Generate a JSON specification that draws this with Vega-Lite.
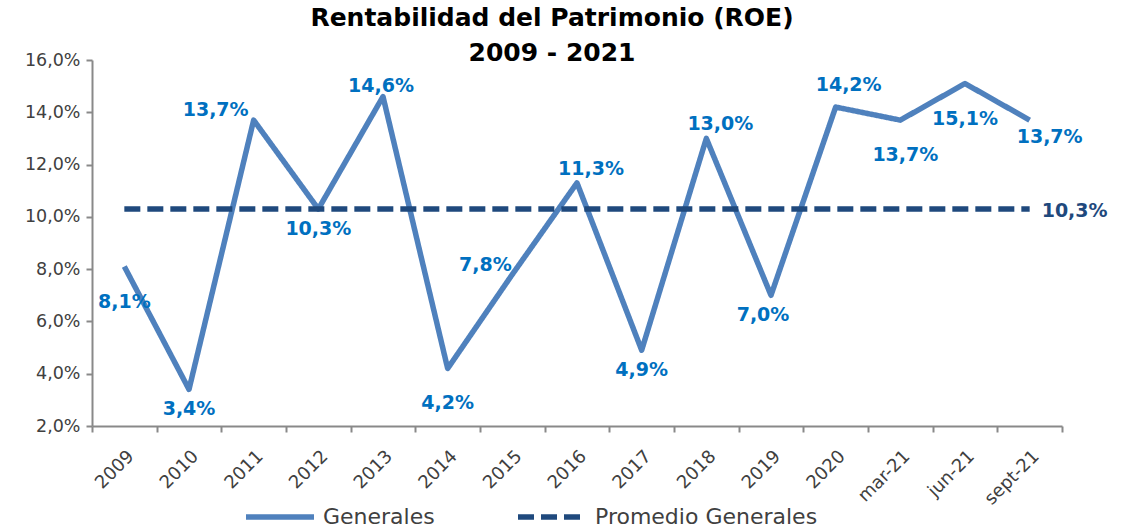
{
  "$schema": "https://vega.github.io/schema/vega-lite/v6.json",
  "width": 970,
  "height": 366,
  "autosize": {"type": "none"},
  "padding": {"left": 92, "top": 60, "right": 59, "bottom": 105},
  "title": {
    "text": ["Rentabilidad del Patrimonio (ROE)", "2009 - 2021"],
    "font": "DejaVu Sans",
    "fontSize": 25,
    "fontWeight": "bold",
    "color": "#000000",
    "anchor": "middle",
    "offset": -15,
    "lineHeight": 35,
    "dx": -25
  },
  "config": {
    "view": {"stroke": null},
    "font": "DejaVu Sans",
    "locale": {"number": {"decimal": ",", "thousands": ".", "grouping": [3], "currency": ["$", ""]}}
  },
  "data": {
    "values": [
      {"periodo": "2009", "serie": "Generales", "valor": 0.081},
      {"periodo": "2010", "serie": "Generales", "valor": 0.034},
      {"periodo": "2011", "serie": "Generales", "valor": 0.137},
      {"periodo": "2012", "serie": "Generales", "valor": 0.103},
      {"periodo": "2013", "serie": "Generales", "valor": 0.146},
      {"periodo": "2014", "serie": "Generales", "valor": 0.042},
      {"periodo": "2015", "serie": "Generales", "valor": 0.078},
      {"periodo": "2016", "serie": "Generales", "valor": 0.113},
      {"periodo": "2017", "serie": "Generales", "valor": 0.049},
      {"periodo": "2018", "serie": "Generales", "valor": 0.130},
      {"periodo": "2019", "serie": "Generales", "valor": 0.070},
      {"periodo": "2020", "serie": "Generales", "valor": 0.142},
      {"periodo": "mar-21", "serie": "Generales", "valor": 0.137},
      {"periodo": "jun-21", "serie": "Generales", "valor": 0.151},
      {"periodo": "sept-21", "serie": "Generales", "valor": 0.137},
      {"periodo": "2009", "serie": "Promedio Generales", "valor": 0.103},
      {"periodo": "2010", "serie": "Promedio Generales", "valor": 0.103},
      {"periodo": "2011", "serie": "Promedio Generales", "valor": 0.103},
      {"periodo": "2012", "serie": "Promedio Generales", "valor": 0.103},
      {"periodo": "2013", "serie": "Promedio Generales", "valor": 0.103},
      {"periodo": "2014", "serie": "Promedio Generales", "valor": 0.103},
      {"periodo": "2015", "serie": "Promedio Generales", "valor": 0.103},
      {"periodo": "2016", "serie": "Promedio Generales", "valor": 0.103},
      {"periodo": "2017", "serie": "Promedio Generales", "valor": 0.103},
      {"periodo": "2018", "serie": "Promedio Generales", "valor": 0.103},
      {"periodo": "2019", "serie": "Promedio Generales", "valor": 0.103},
      {"periodo": "2020", "serie": "Promedio Generales", "valor": 0.103},
      {"periodo": "mar-21", "serie": "Promedio Generales", "valor": 0.103},
      {"periodo": "jun-21", "serie": "Promedio Generales", "valor": 0.103},
      {"periodo": "sept-21", "serie": "Promedio Generales", "valor": 0.103}
    ]
  },
  "encoding": {
    "x": {
      "field": "periodo",
      "type": "nominal",
      "sort": ["2009","2010","2011","2012","2013","2014","2015","2016","2017","2018","2019","2020","mar-21","jun-21","sept-21"],
      "scale": {"type": "band", "paddingInner": 0, "paddingOuter": 0},
      "axis": {
        "title": null,
        "labelAngle": -45,
        "labelFontSize": 18,
        "labelColor": "#404040",
        "tickBand": "extent",
        "tickSize": 6,
        "domainColor": "#898989",
        "tickColor": "#898989",
        "domainWidth": 2,
        "tickWidth": 2,
        "labelPadding": 15
      }
    },
    "y": {
      "field": "valor",
      "type": "quantitative",
      "scale": {"domain": [0.02, 0.16], "nice": false, "zero": false},
      "axis": {
        "title": null,
        "values": [0.02, 0.04, 0.06, 0.08, 0.10, 0.12, 0.14, 0.16],
        "format": ".1%",
        "labelFontSize": 17.5,
        "labelColor": "#404040",
        "grid": false,
        "tickSize": 6,
        "domainColor": "#898989",
        "tickColor": "#898989",
        "domainWidth": 2,
        "tickWidth": 2,
        "labelPadding": 6
      }
    }
  },
  "layer": [
    {
      "mark": {"type": "line", "strokeWidth": 5.5, "strokeJoin": "round"},
      "encoding": {
        "color": {
          "field": "serie",
          "type": "nominal",
          "scale": {"domain": ["Generales", "Promedio Generales"], "range": ["#4F81BD", "#1F497D"]},
          "legend": {
            "orient": "none",
            "legendX": 151,
            "legendY": 420,
            "direction": "horizontal",
            "title": null,
            "symbolType": "stroke",
            "symbolSize": 4624,
            "symbolStrokeWidth": 5.5,
            "labelFontSize": 22,
            "labelColor": "#404040",
            "labelLimit": 400,
            "columnPadding": 72,
            "labelOffset": 6
          }
        },
        "strokeDash": {
          "field": "serie",
          "type": "nominal",
          "scale": {"domain": ["Generales", "Promedio Generales"], "range": [[1, 0], [16, 7]]},
          "legend": {
            "orient": "none",
            "legendX": 151,
            "legendY": 420,
            "direction": "horizontal",
            "title": null,
            "symbolType": "stroke",
            "symbolSize": 4624,
            "symbolStrokeWidth": 5.5,
            "labelFontSize": 22,
            "labelColor": "#404040",
            "labelLimit": 400,
            "columnPadding": 72,
            "labelOffset": 6
          }
        }
      }
    },
    {
      "transform": [{"filter": {"field": "serie", "equal": "Generales"}}, {"filter": {"field": "periodo", "oneOf": ["2013"]}}],
      "mark": {"type": "text", "fontSize": 19, "fontWeight": "bold", "color": "#0070C0", "baseline": "middle", "dx": -2, "dy": -11},
      "encoding": {"text": {"field": "valor", "type": "quantitative", "format": ".1%"}}
    },
    {
      "transform": [{"filter": {"field": "serie", "equal": "Generales"}}, {"filter": {"field": "periodo", "oneOf": ["2016", "2018"]}}],
      "mark": {"type": "text", "fontSize": 19, "fontWeight": "bold", "color": "#0070C0", "baseline": "middle", "dx": 14, "dy": -14},
      "encoding": {"text": {"field": "valor", "type": "quantitative", "format": ".1%"}}
    },
    {
      "transform": [{"filter": {"field": "serie", "equal": "Generales"}}, {"filter": {"field": "periodo", "oneOf": ["2020"]}}],
      "mark": {"type": "text", "fontSize": 19, "fontWeight": "bold", "color": "#0070C0", "baseline": "middle", "dx": 13, "dy": -22},
      "encoding": {"text": {"field": "valor", "type": "quantitative", "format": ".1%"}}
    },
    {
      "transform": [{"filter": {"field": "serie", "equal": "Generales"}}, {"filter": {"field": "periodo", "oneOf": ["2010", "2012", "2017"]}}],
      "mark": {"type": "text", "fontSize": 19, "fontWeight": "bold", "color": "#0070C0", "baseline": "middle", "dy": 20},
      "encoding": {"text": {"field": "valor", "type": "quantitative", "format": ".1%"}}
    },
    {
      "transform": [{"filter": {"field": "serie", "equal": "Generales"}}, {"filter": {"field": "periodo", "oneOf": ["2019"]}}],
      "mark": {"type": "text", "fontSize": 19, "fontWeight": "bold", "color": "#0070C0", "baseline": "middle", "dx": -8, "dy": 20},
      "encoding": {"text": {"field": "valor", "type": "quantitative", "format": ".1%"}}
    },
    {
      "transform": [{"filter": {"field": "serie", "equal": "Generales"}}, {"filter": {"field": "periodo", "oneOf": ["2009", "2014", "jun-21"]}}],
      "mark": {"type": "text", "fontSize": 19, "fontWeight": "bold", "color": "#0070C0", "baseline": "middle", "dy": 35},
      "encoding": {"text": {"field": "valor", "type": "quantitative", "format": ".1%"}}
    },
    {
      "transform": [{"filter": {"field": "serie", "equal": "Generales"}}, {"filter": {"field": "periodo", "oneOf": ["mar-21"]}}],
      "mark": {"type": "text", "fontSize": 19, "fontWeight": "bold", "color": "#0070C0", "baseline": "middle", "dx": 5, "dy": 35},
      "encoding": {"text": {"field": "valor", "type": "quantitative", "format": ".1%"}}
    },
    {
      "transform": [{"filter": {"field": "serie", "equal": "Generales"}}, {"filter": {"field": "periodo", "oneOf": ["2011"]}}],
      "mark": {"type": "text", "fontSize": 19, "fontWeight": "bold", "color": "#0070C0", "baseline": "middle", "dx": -38, "dy": -10},
      "encoding": {"text": {"field": "valor", "type": "quantitative", "format": ".1%"}}
    },
    {
      "transform": [{"filter": {"field": "serie", "equal": "Generales"}}, {"filter": {"field": "periodo", "oneOf": ["2015"]}}],
      "mark": {"type": "text", "fontSize": 19, "fontWeight": "bold", "color": "#0070C0", "baseline": "middle", "dx": -27, "dy": -9},
      "encoding": {"text": {"field": "valor", "type": "quantitative", "format": ".1%"}}
    },
    {
      "transform": [{"filter": {"field": "serie", "equal": "Generales"}}, {"filter": {"field": "periodo", "oneOf": ["sept-21"]}}],
      "mark": {"type": "text", "fontSize": 19, "fontWeight": "bold", "color": "#0070C0", "baseline": "middle", "dx": 20, "dy": 17},
      "encoding": {"text": {"field": "valor", "type": "quantitative", "format": ".1%"}}
    },
    {
      "transform": [{"filter": {"field": "serie", "equal": "Promedio Generales"}}, {"filter": {"field": "periodo", "oneOf": ["sept-21"]}}],
      "mark": {"type": "text", "fontSize": 19, "fontWeight": "bold", "color": "#1F497D", "baseline": "middle", "align": "left", "dx": 12, "dy": 2},
      "encoding": {"text": {"field": "valor", "type": "quantitative", "format": ".1%"}}
    }
  ]
}
